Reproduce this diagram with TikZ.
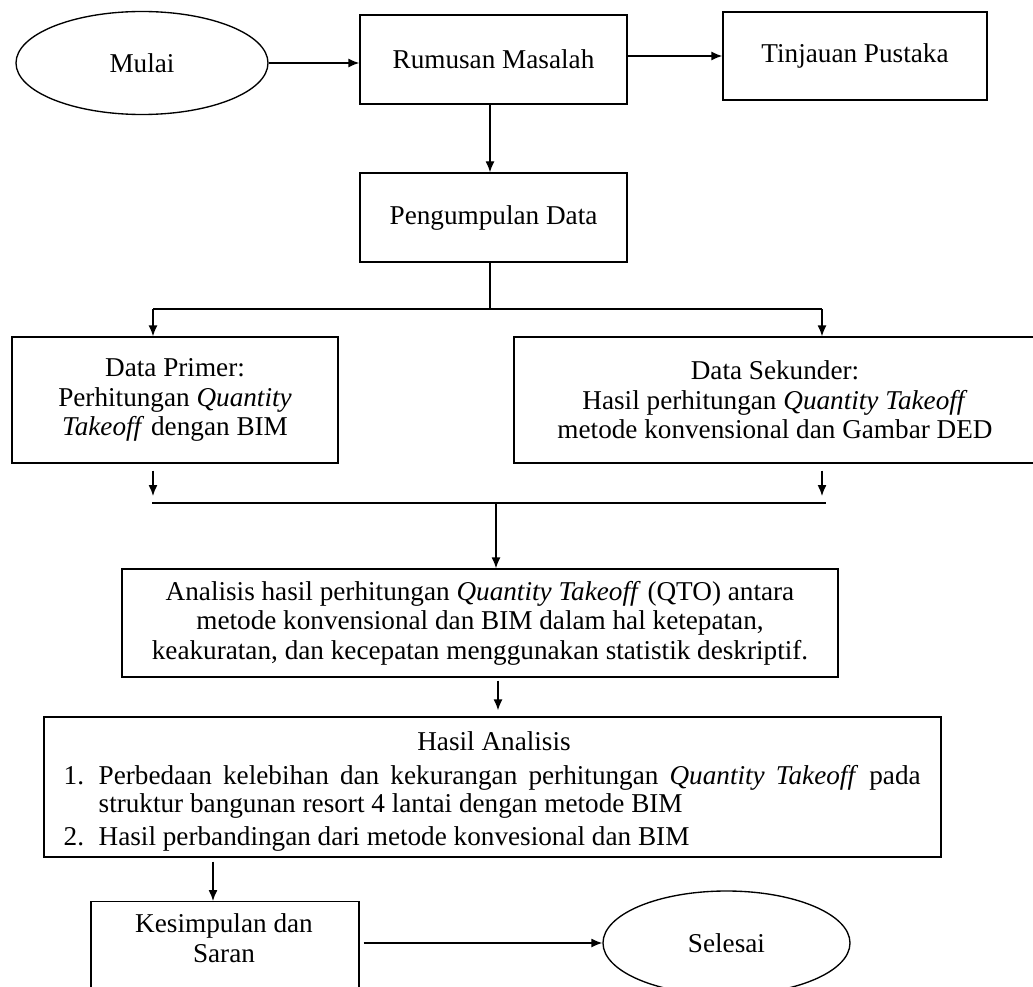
\documentclass[tikz,border=0pt]{standalone}
\usepackage{fontspec}
\setmainfont{Liberation Serif}
\usetikzlibrary{arrows.meta,shapes.geometric}
\begin{document}
\begin{tikzpicture}[x=1pt,y=-1pt, line width=1.35pt,
  font=\fontsize{27.2}{29.5}\selectfont,
  box/.style={draw, rectangle, inner sep=0pt, align=center},
  oval/.style={draw, ellipse, inner sep=0pt},
  txt/.style={inner sep=0pt},
  arr/.style={-{Latex[length=11pt,width=9pt]}}]
\useasboundingbox (0,0) rectangle (1033,987);
\clip (0,0) rectangle (1033,987);

\node[oval, minimum width=252, minimum height=103] (mulai) at (142,63) {Mulai};
\node[box, minimum width=267, minimum height=89] (rumusan) at (493.5,59.5) {Rumusan Masalah};
\node[box, minimum width=264, minimum height=88] (tinjauan) at (855,56) {Tinjauan Pustaka};
\node[box, minimum width=267, minimum height=89] (pengumpulan) at (493.5,217.5) {Pengumpulan Data};
\node[box, minimum width=326, minimum height=126] (primer) at (175,400)
  {Data Primer:\\ Perhitungan \textit{Quantity}\\ \textit{Takeoff} dengan BIM};
\node[box, minimum width=522, minimum height=126] (sekunder) at (775,400)
  {Data Sekunder:\\ Hasil perhitungan \textit{Quantity Takeoff}\\ metode konvensional dan Gambar DED};
\node[box, minimum width=716, minimum height=108] (analisis) at (480,623)
  {Analisis hasil perhitungan \textit{Quantity Takeoff} (QTO) antara\\ metode konvensional dan BIM dalam hal ketepatan,\\ keakuratan, dan kecepatan menggunakan statistik deskriptif.};
\node[box, minimum width=897, minimum height=140] (hasil) at (492.5,787) {};
\node[txt, anchor=base] (hasilT) at (494,750) {Hasil Analisis};
\node[txt, anchor=base west] (n1) at (63,784) {1.};
\node[txt, anchor=base west] (t1a) at (98,784)
  {\makebox[822pt][s]{Perbedaan kelebihan dan kekurangan perhitungan \textit{Quantity Takeoff} pada}};
\node[txt, anchor=base west] (t1b) at (98,812) {struktur bangunan resort 4 lantai dengan metode BIM};
\node[txt, anchor=base west] (n2) at (63,845) {2.};
\node[txt, anchor=base west] (t2) at (98,845) {Hasil perbandingan dari metode konvesional dan BIM};
\node[box, minimum width=268, minimum height=110, anchor=north] (kesimpulan) at (225,901) {};
\node[txt, align=center] (kesT) at (224,938) {Kesimpulan dan\\ Saran};
\node[oval, minimum width=247, minimum height=104] (selesai) at (726.5,943) {Selesai};

\coordinate (split) at (490,309);
\coordinate (pL) at (153,309);
\coordinate (pR) at (822,309);
\coordinate (jL) at (152,503);
\coordinate (jR) at (826,503);
\coordinate (join) at (496,503);
\coordinate (ah) at (498,0);
\coordinate (hk) at (213,0);

\draw[arr] (mulai.east) -- (mulai.east -| rumusan.west);
\draw[arr] (tinjauan.west -| rumusan.east) -- (tinjauan.west);
\draw[arr] (rumusan.south -| split) -- (pengumpulan.north -| split);
\draw (pengumpulan.south -| split) -- (split);
\draw (pL) -- (pR);
\draw[arr] (pL) -- (pL |- primer.north);
\draw[arr] (pR) -- (pR |- sekunder.north);
\draw[arr, shorten <=7pt, shorten >=7pt] (primer.south -| pL) -- (jL -| pL);
\draw[arr, shorten <=7pt, shorten >=7pt] (sekunder.south -| pR) -- (jR -| pR);
\draw (jL) -- (jR);
\draw[arr] (join) -- (analisis.north -| join);
\draw[arr, shorten <=3pt, shorten >=6pt] (analisis.south -| ah) -- (hasil.north -| ah);
\draw[arr, shorten <=4pt] (hasil.south -| hk) -- (kesimpulan.north -| hk);
\draw[arr, shorten <=4pt] (kesimpulan.east |- selesai.west) -- (selesai.west);
\end{tikzpicture}
\end{document}
